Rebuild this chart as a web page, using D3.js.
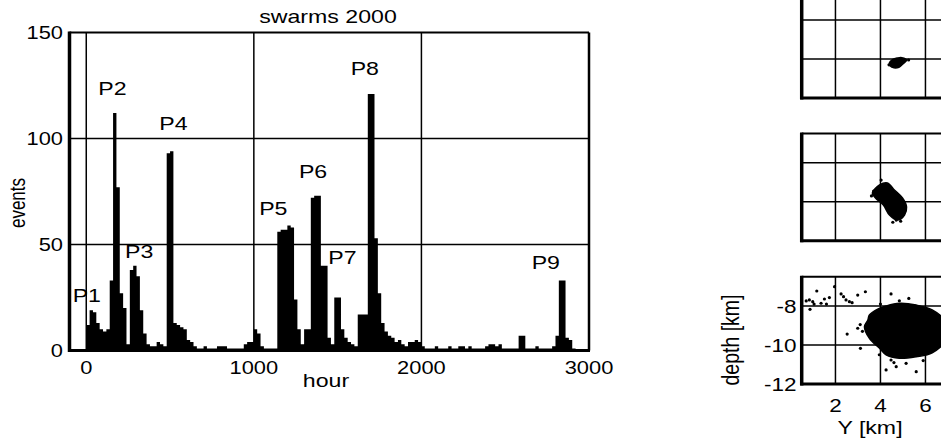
<!DOCTYPE html>
<html>
<head>
<meta charset="utf-8">
<script src="https://cdn.jsdelivr.net/npm/d3@7"></script>
<style>
  body { margin: 0; background: #fff; }
  svg { display: block; }
  text { font-family: "Liberation Sans", Arial, Helvetica, sans-serif; fill: #000; }
</style>
</head>
<body>
<svg id="chart" width="941" height="442"></svg>
<script>
// ---- histogram of swarm events (20-hour bins starting at hour 0) ----
const binHours = 20;
const eventCounts = [
  12, 19, 18, 13, 10, 9, 10, 33, 112, 77,
  27, 20, 3, 38, 40, 35, 19, 8, 3, 2,
  2, 4, 3, 2, 93, 94, 13, 12, 11, 10,
  5, 4, 2, 1, 1, 2, 1, 1, 1, 2,
  2, 2, 1, 1, 1, 1, 1, 3, 4, 4,
  10, 8, 2, 1, 1, 1, 1, 56, 57, 57,
  59, 58, 24, 10, 3, 10, 10, 72, 73, 73,
  40, 40, 6, 3, 25, 25, 10, 6, 4, 3,
  2, 17, 17, 17, 121, 121, 53, 27, 13, 9,
  7, 6, 4, 5, 3, 2, 4, 4, 5, 4,
  2, 1, 1, 1, 2, 1, 1, 1, 2, 1,
  1, 2, 2, 1, 2, 1, 1, 1, 1, 2,
  3, 3, 2, 3, 1, 1, 1, 1, 1, 7,
  7, 1, 1, 1, 2, 1, 1, 1, 1, 2,
  7, 33, 33, 6, 5, 1
];
const hourTicks = [0, 1000, 2000, 3000];
const eventTicks = [0, 50, 100, 150];
const peakNames = ["P1", "P2", "P3", "P4", "P5", "P6", "P7", "P8", "P9"];
// label anchor of each peak name: [hour, events] (left end of baseline)
const peakLabelAt = [[-81, 23], [72, 120.5], [231, 43.5], [436, 104], [1032, 64],
                     [1269, 81.4], [1444, 41], [1578, 130], [2658, 38.4]];

// ---- hypocentre cross-sections (Y [km] vs depth [km]) ----
const yKmTicks = [2, 4, 6];
const depthTicks = [-8, -10, -12];
const clusterOutlines = [
  [[4.40, -10.19], [4.55, -10.02], [4.75, -9.95], [4.95, -9.93], [5.16, -10.06],
   [5.0, -10.25], [4.82, -10.42], [4.6, -10.45], [4.44, -10.36]],
  [[3.64, -9.55], [3.96, -9.14], [4.31, -9.04], [4.62, -9.40], [4.98, -9.81],
   [5.16, -10.27], [5.07, -10.68], [4.76, -10.94], [4.40, -10.68], [4.13, -10.17], [3.78, -9.81]],
  [[3.44, -8.72], [3.51, -8.46], [3.9, -8.15], [4.25, -8.0], [4.84, -7.86], [5.59, -7.95],
   [6.3, -8.2], [6.9, -8.8], [7.0, -9.6], [6.3, -10.4], [5.59, -10.6], [4.84, -10.68],
   [4.25, -10.51], [3.96, -10.17], [3.51, -9.66], [3.29, -9.06]]
];
const scatterPoints = [
  [[5.25, -10.05], [4.38, -10.3]],
  [[4.03, -8.89], [4.70, -10.94], [4.55, -11.05], [3.7, -9.45], [4.9, -11.0], [3.6, -9.7]],
  [[0.70, -7.74], [0.84, -7.69], [0.99, -7.78], [1.17, -7.23], [1.36, -7.86], [1.51, -7.64],
   [1.73, -7.57], [1.96, -7.01], [2.25, -7.38], [2.36, -7.52], [2.47, -7.69], [2.62, -7.78],
   [2.74, -7.83], [2.99, -7.44], [3.33, -7.27], [0.87, -8.17], [4.47, -7.38], [4.84, -7.73],
   [5.26, -7.61], [2.52, -9.44], [3.11, -10.17], [2.99, -9.14], [3.1, -8.95], [3.2, -9.3],
   [4.25, -11.28], [4.70, -11.11], [5.59, -11.37], [4.47, -10.77], [5.14, -10.94],
   [4.0, -7.9], [3.95, -10.5], [4.6, -10.9], [5.9, -10.8], [1.05, -7.9], [1.6, -7.9]]
];

const svg = d3.select("#chart");
const STRETCH = 1.25;

// text helper: glyphs are drawn slightly widened
function label(g, x, y, str, size, anchor, rotate) {
  return g.append("text")
    .attr("transform", `translate(${x},${y}) scale(${STRETCH},1)` + (rotate ? " rotate(-90)" : ""))
    .attr("font-size", size)
    .attr("text-anchor", anchor)
    .text(str);
}

// ================= histogram =================
const x = d3.scaleLinear().domain([-100, 3000]).range([69.5, 589]);
const y = d3.scaleLinear().domain([0, 150]).range([350.5, 32.5]);
const hist = svg.append("g");

// grid
hist.selectAll("line.vgrid").data(hourTicks.slice(0, 3)).join("line")
  .attr("x1", d => x(d)).attr("x2", d => x(d))
  .attr("y1", y(150)).attr("y2", y(0))
  .attr("stroke", "#000").attr("stroke-width", 1.5);
hist.selectAll("line.hgrid").data(eventTicks.slice(1, 3)).join("line")
  .attr("x1", x(-100)).attr("x2", x(3000))
  .attr("y1", d => y(d)).attr("y2", d => y(d))
  .attr("stroke", "#000").attr("stroke-width", 1.5);

// bars as one stepped area
const steps = eventCounts.map((c, i) => [i * binHours, c]);
steps.push([eventCounts.length * binHours, eventCounts[eventCounts.length - 1]]);
hist.append("path")
  .datum(steps)
  .attr("fill", "#000")
  .attr("d", d3.area().curve(d3.curveStepAfter)
    .x(d => x(d[0])).y0(y(0)).y1(d => y(d[1])));

// frame
hist.append("line").attr("x1", x(-100)).attr("x2", x(3000)).attr("y1", y(150)).attr("y2", y(150))
  .attr("stroke", "#000").attr("stroke-width", 2);
hist.append("line").attr("x1", x(3000)).attr("x2", x(3000)).attr("y1", y(150)).attr("y2", y(0))
  .attr("stroke", "#000").attr("stroke-width", 2.5);
hist.append("line").attr("x1", x(-100) - 1.5).attr("x2", x(3000) + 1).attr("y1", y(0)).attr("y2", y(0))
  .attr("stroke", "#000").attr("stroke-width", 3);
hist.append("line").attr("x1", x(-100)).attr("x2", x(-100)).attr("y1", y(150) - 1).attr("y2", y(0) + 1.5)
  .attr("stroke", "#000").attr("stroke-width", 3.5);

// tick labels
eventTicks.forEach(t => label(hist, 63, y(t) + 6.5, String(t), 17.5, "end"));
hourTicks.forEach(t => label(hist, x(t), 373.5, String(t), 17.5, "middle"));

// titles
label(hist, 328, 23, "swarms 2000", 18.5, "middle");
label(hist, 326, 387, "hour", 18.5, "middle");
label(hist, 24.5, 203, "events", 17, "middle", true);

// peak names
peakNames.forEach((p, i) => label(hist, x(peakLabelAt[i][0]), y(peakLabelAt[i][1]), p, 18.5, "start"));

// ================= cross-sections =================
const panelLeft = 801.7, panelHeight = 107.25;
const panelTops = [-9.25, 133.5, 276.75];
const yKm = d3.scaleLinear().domain([0.5, 8]).range([panelLeft, panelLeft + 7.5 * 22.5]);

panelTops.forEach((top, k) => {
  const depth = d3.scaleLinear().domain([-12, -6.5]).range([top + panelHeight, top]);
  const g = svg.append("g");
  const clipId = "clip" + k;
  g.append("clipPath").attr("id", clipId).append("rect")
    .attr("x", panelLeft).attr("y", top).attr("width", 300).attr("height", panelHeight);

  g.selectAll("line.vg").data([2, 4, 6, 8]).join("line")
    .attr("x1", d => yKm(d)).attr("x2", d => yKm(d))
    .attr("y1", depth(-6.5)).attr("y2", depth(-12))
    .attr("stroke", "#000").attr("stroke-width", 1.5);
  g.selectAll("line.hg").data([-8, -10]).join("line")
    .attr("x1", yKm(0.5)).attr("x2", yKm(8))
    .attr("y1", d => depth(d)).attr("y2", d => depth(d))
    .attr("stroke", "#000").attr("stroke-width", 1.5);

  const inner = g.append("g").attr("clip-path", `url(#${clipId})`);
  inner.append("path")
    .datum(clusterOutlines[k])
    .attr("fill", "#000").attr("stroke", "#000").attr("stroke-width", 1.5)
    .attr("d", d3.line().curve(d3.curveCatmullRomClosed.alpha(0.5))
      .x(d => yKm(d[0])).y(d => depth(d[1])));
  inner.selectAll("circle").data(scatterPoints[k]).join("circle")
    .attr("cx", d => yKm(d[0])).attr("cy", d => depth(d[1]))
    .attr("r", 1.6).attr("fill", "#000");

  // frame
  g.append("line").attr("x1", yKm(0.5)).attr("x2", yKm(8)).attr("y1", depth(-6.5)).attr("y2", depth(-6.5))
    .attr("stroke", "#000").attr("stroke-width", 2);
  g.append("line").attr("x1", yKm(0.5) - 1.5).attr("x2", yKm(8)).attr("y1", depth(-12)).attr("y2", depth(-12))
    .attr("stroke", "#000").attr("stroke-width", 3);
  g.append("line").attr("x1", yKm(0.5)).attr("x2", yKm(0.5)).attr("y1", depth(-6.5) - 1).attr("y2", depth(-12) + 1.5)
    .attr("stroke", "#000").attr("stroke-width", 3.5);

  if (k === panelTops.length - 1) {
    depthTicks.forEach(t => label(g, 796.5, depth(t) + 6.5, String(t), 18, "end"));
    yKmTicks.forEach(t => label(g, yKm(t), 411.5, String(t), 18, "middle"));
    label(g, 870, 434, "Y [km]", 18.5, "middle");
    label(g, 739, 340, "depth [km]", 19.5, "middle", true);
  }
});
</script>
</body>
</html>
